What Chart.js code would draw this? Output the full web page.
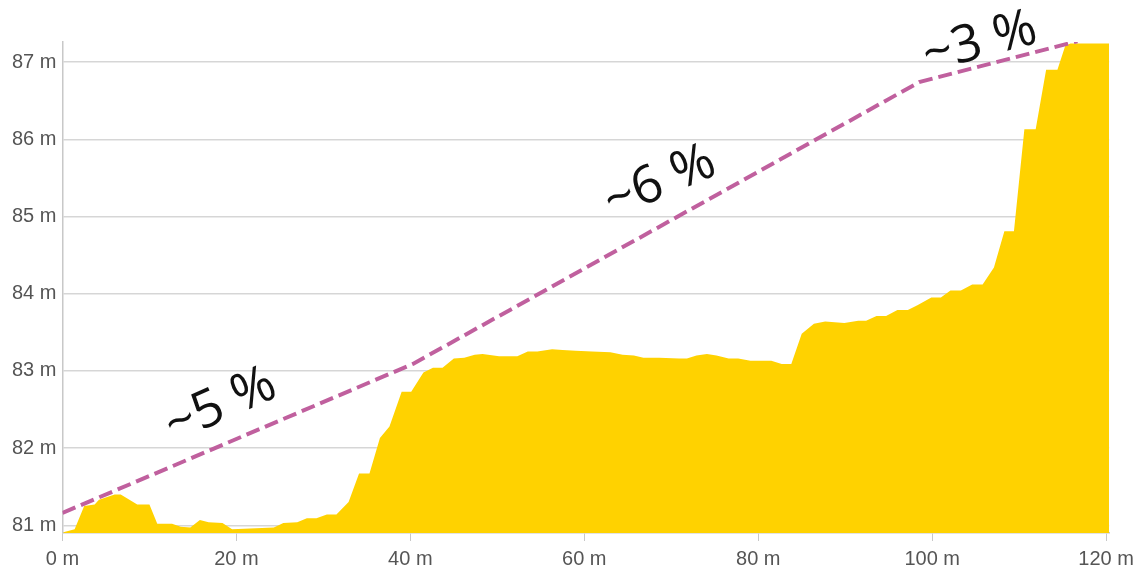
<!DOCTYPE html>
<html>
<head>
    <title>Elevation profile</title>
    <meta charset="utf-8">
    <script src="https://cdn.jsdelivr.net/npm/chart.js"></script>
</head>
<style>
    body { margin: 0; background: #fff; }
    #wrap { width: 1140px; height: 569px; position: relative; }
</style>
<body>
    <div id="wrap">
        <canvas id="profileChart"></canvas>
    </div>
    <script>
        // terrain profile: distance (m) and elevation (m)
        const distances = [0.1, 1.4, 2.5, 3.7, 4.2, 6.0, 6.7, 8.6, 10.0, 10.9, 12.6, 13.6, 14.7, 15.8, 16.8, 18.4, 19.5,
            24.3, 25.4, 27.0, 28.1, 29.2, 30.4, 31.5, 32.9, 34.1, 35.3, 36.5, 37.6, 39.0, 40.1, 41.5, 42.6, 43.7,
            45.0, 46.2, 47.4, 48.3, 50.2, 52.3, 53.5, 54.6, 56.3, 57.5, 59.0, 60.9, 63.0, 64.4, 65.7, 66.8, 68.6,
            70.9, 71.8, 72.9, 74.1, 75.2, 76.6, 77.7, 79.1, 81.5, 82.7, 83.8, 85.0, 86.4, 87.7, 89.9, 91.5, 92.4,
            93.6, 94.7, 96.0, 97.2, 98.3, 99.9, 101.0, 102.1, 103.3, 104.6, 105.8, 107.1, 108.3, 109.4, 110.6,
            111.9, 113.1, 114.4, 115.3, 115.9, 120.35];
        const elevations = [80.91, 80.95, 81.25, 81.27, 81.33, 81.40, 81.40, 81.27, 81.27, 81.02, 81.02, 80.98, 80.97,
            81.07, 81.04, 81.03, 80.95, 80.97, 81.03, 81.04, 81.09, 81.09, 81.14, 81.14, 81.30, 81.67, 81.67, 82.13,
            82.28, 82.73, 82.73, 82.98, 83.04, 83.04, 83.16, 83.17, 83.21, 83.22, 83.19, 83.19, 83.25, 83.25, 83.28,
            83.27, 83.26, 83.25, 83.24, 83.21, 83.20, 83.17, 83.17, 83.16, 83.16, 83.20, 83.22, 83.20, 83.16, 83.16,
            83.13, 83.13, 83.09, 83.09, 83.48, 83.61, 83.64, 83.62, 83.65, 83.65, 83.71, 83.71, 83.79, 83.79, 83.85,
            83.95, 83.95, 84.04, 84.04, 84.12, 84.12, 84.34, 84.81, 84.81, 86.13, 86.13, 86.90, 86.90, 87.21, 87.24,
            87.24];

        // dashed average-grade line
        const gradeDistances = [0, 40.3, 98.5, 116.7];
        const gradeElevations = [81.16, 83.09, 86.74, 87.27];

        // grade labels
        const gradeLabels = ['~5 %', '~6 %', '~3 %'];
        const gradeLabelX = [18.2, 68.7, 105.5];
        const gradeLabelY = [82.55, 85.44, 87.25];
        const gradeLabelAngle = [-24, -23, -15];

        const xTicks = [0, 20, 40, 60, 80, 100, 120];
        const yTicks = [81, 82, 83, 84, 85, 86, 87];

        const profilePoints = distances.map((d, i) => ({ x: d, y: elevations[i] }));
        const gradePoints = gradeDistances.map((d, i) => ({ x: d, y: gradeElevations[i] }));

        const gradeText = {
            id: 'gradeText',
            afterDraw(chart) {
                const ctx = chart.ctx;
                const xs = chart.scales.x, ys = chart.scales.y;
                ctx.save();
                ctx.fillStyle = '#111';
                ctx.font = '52px "Open Sans", "Noto Sans", sans-serif';
                ctx.textAlign = 'center';
                ctx.textBaseline = 'middle';
                gradeLabels.forEach((t, i) => {
                    ctx.save();
                    ctx.translate(xs.getPixelForValue(gradeLabelX[i]), ys.getPixelForValue(gradeLabelY[i]));
                    ctx.rotate(gradeLabelAngle[i] * Math.PI / 180);
                    ctx.fillText(t, 0, 0);
                    ctx.restore();
                });
                ctx.restore();
            }
        };

        const tickFont = { family: '"Liberation Sans", Arial, sans-serif', size: 20 };

        new Chart(document.getElementById('profileChart'), {
            type: 'line',
            data: {
                datasets: [
                    {
                        data: gradePoints,
                        borderColor: '#c0609e',
                        borderWidth: 4,
                        borderDash: [14, 6],
                        pointRadius: 0,
                        fill: false,
                        tension: 0,
                        order: 0
                    },
                    {
                        data: profilePoints,
                        borderWidth: 0,
                        borderColor: 'rgba(0,0,0,0)',
                        backgroundColor: '#ffd200',
                        pointRadius: 0,
                        fill: 'start',
                        tension: 0,
                        order: 1
                    }
                ]
            },
            options: {
                responsive: true,
                maintainAspectRatio: false,
                animation: false,
                layout: { padding: { left: 6, right: 28, top: 42, bottom: -8 } },
                plugins: {
                    legend: { display: false },
                    tooltip: { enabled: false }
                },
                scales: {
                    x: {
                        type: 'linear',
                        min: 0,
                        max: 120.35,
                        afterBuildTicks: (s) => { s.ticks = xTicks.map(v => ({ value: v })); },
                        ticks: {
                            font: tickFont,
                            color: '#555',
                            padding: 6,
                            maxRotation: 0,
                            callback: (v) => v + ' m'
                        },
                        grid: {
                            drawOnChartArea: false,
                            drawTicks: true,
                            tickLength: 8,
                            color: '#c8c8c8'
                        },
                        border: { color: '#c8c8c8', width: 1.5 }
                    },
                    y: {
                        type: 'linear',
                        min: 80.9,
                        max: 87.26,
                        z: 1,
                        afterBuildTicks: (s) => { s.ticks = yTicks.map(v => ({ value: v })); },
                        ticks: {
                            font: tickFont,
                            color: '#555',
                            padding: 6,
                            callback: (v) => v + ' m'
                        },
                        grid: {
                            drawTicks: false,
                            color: 'rgba(0,0,0,0.16)',
                            lineWidth: 1.5
                        },
                        border: { color: '#c8c8c8', width: 1.5 }
                    }
                }
            },
            plugins: [gradeText]
        });
    </script>
</body>
</html>
